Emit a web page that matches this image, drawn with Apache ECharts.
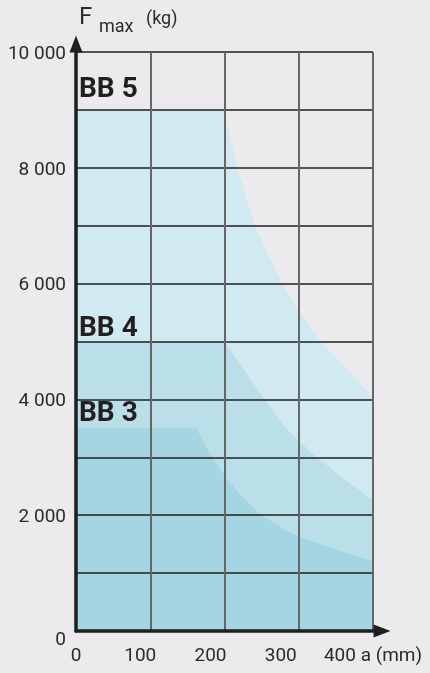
<!DOCTYPE html>
<html>
<head>
<meta charset="utf-8">
<script src="https://cdn.jsdelivr.net/npm/echarts@6/dist/echarts.min.js"></script>
<style>
html,body{margin:0;padding:0;background:#ebebed;}
#c{width:430px;height:673px;}
</style>
</head>
<body>
<div id="c"></div>
<script>
// distance a (mm) and max load F (kg) for each size
const bb5A = [0, 200, 208, 217, 241, 277, 300, 330, 365, 400];
const bb5F = [9000, 9000, 8500, 8000, 7000, 6000, 5530, 5000, 4510, 4040];
const bb4A = [0, 200, 223, 254, 278, 300, 324, 360, 400];
const bb4F = [5000, 5000, 4570, 4000, 3570, 3280, 3000, 2640, 2260];
const bb3A = [0, 162, 183, 201, 224, 246, 278, 300, 366, 400];
const bb3F = [3500, 3500, 3000, 2670, 2320, 2040, 1770, 1630, 1340, 1210];
const seriesNames = ['BB 5', 'BB 4', 'BB 3'];
const xTickLabels = {0: '0', 100: '100', 200: '200', 300: '300', 400: '400 a (mm)'};
const yTickLabels = {0: '0', 2000: '2 000', 4000: '4 000', 6000: '6 000', 8000: '8 000', 10000: '10 000'};

const colors = ['#d1e9f0', '#badfe9', '#a5d5e2'];
const zip = (a, f) => a.map((x, i) => [x, f[i]]);
const allData = [zip(bb5A, bb5F), zip(bb4A, bb4F), zip(bb3A, bb3F)];

const chart = echarts.init(document.getElementById('c'));
const tickFont = 'Roboto';
const xPad = {0: 0, 100: 20, 200: 28, 300: 36, 400: 0};

const option = {
  backgroundColor: '#ebebed',
  animation: false,
  grid: {left: 76, right: 57, top: 52, bottom: 42, containLabel: false},
  xAxis: {
    type: 'value', min: 0, max: 400, interval: 100, z: 10,
    axisLine: {show: true, symbol: ['none', 'triangle'], symbolSize: [13, 17], symbolOffset: [0, 9],
      lineStyle: {color: '#1e1e1e', width: 3.5}},
    axisTick: {show: false},
    splitLine: {show: true, lineStyle: {color: '#666666', width: 2}},
    axisLabel: {
      margin: 16, fontFamily: tickFont, fontSize: 19, color: '#2b2b2b',
      formatter: v => '{t' + v + '|' + (xTickLabels[v] || '') + '}',
      rich: Object.fromEntries(Object.keys(xPad).map(k => ['t' + k, {fontFamily: tickFont, fontSize: 19, color: '#2b2b2b', padding: [0, xPad[k], 0, 0]}]))
    }
  },
  yAxis: {
    type: 'value', min: 0, max: 10000, interval: 1000, z: 10,
    axisLine: {show: true, symbol: ['none', 'triangle'], symbolSize: [13, 17], symbolOffset: [0, 8],
      lineStyle: {color: '#1e1e1e', width: 3.5}},
    axisTick: {show: false},
    splitLine: {show: true, lineStyle: {color: '#1f1f1f', width: 1.5}},
    axisLabel: {
      margin: 10, fontFamily: tickFont, fontSize: 19, color: '#2b2b2b',
      formatter: v => yTickLabels[v] === undefined ? '' : (v === 0 ? '{z|0}' : '{n|' + yTickLabels[v] + '}'),
      rich: {
        n: {fontFamily: tickFont, fontSize: 19, color: '#2b2b2b', padding: [4, 0, 0, 0]},
        z: {fontFamily: tickFont, fontSize: 19, color: '#2b2b2b', padding: [18, 0, 0, 0]}
      }
    }
  },
  series: allData.map((d, i) => ({
    name: seriesNames[i], type: 'line', data: d, showSymbol: false, symbol: 'none',
    lineStyle: {width: 0}, areaStyle: {color: colors[i], opacity: 1}, z: 2 + i
  }))
};
chart.setOption(option);

const bbFont = {fontFamily: 'Roboto', fontSize: 28, fontWeight: 'bold', fill: '#231f20'};
const p5 = chart.convertToPixel({gridIndex: 0}, [0, bb5F[0]]);
const p4 = chart.convertToPixel({gridIndex: 0}, [0, bb4F[0]]);
const p3 = chart.convertToPixel({gridIndex: 0}, [0, 4000]);
chart.setOption({
  graphic: [
    {type: 'text', z: 20, style: Object.assign({text: seriesNames[0], x: 79, y: p5[1] - 20, verticalAlign: 'middle'}, bbFont)},
    {type: 'text', z: 20, style: Object.assign({text: seriesNames[1], x: 79, y: p4[1] - 13, verticalAlign: 'middle'}, bbFont)},
    {type: 'text', z: 20, style: Object.assign({text: seriesNames[2], x: 79, y: p3[1] + 15, verticalAlign: 'middle'}, bbFont)},
    {type: 'text', z: 20, style: {text: 'F', x: 79, y: 17.5, verticalAlign: 'middle', fontFamily: 'Roboto', fontSize: 24, fill: '#2b2b2b'}},
    {type: 'text', z: 20, style: {text: 'max', x: 99, y: 27, verticalAlign: 'middle', fontFamily: 'Roboto', fontSize: 18, fill: '#2b2b2b'}},
    {type: 'text', z: 20, style: {text: '(kg)', x: 146, y: 19, verticalAlign: 'middle', fontFamily: 'Roboto', fontSize: 18, fill: '#2b2b2b'}}
  ]
});
</script>
</body>
</html>
